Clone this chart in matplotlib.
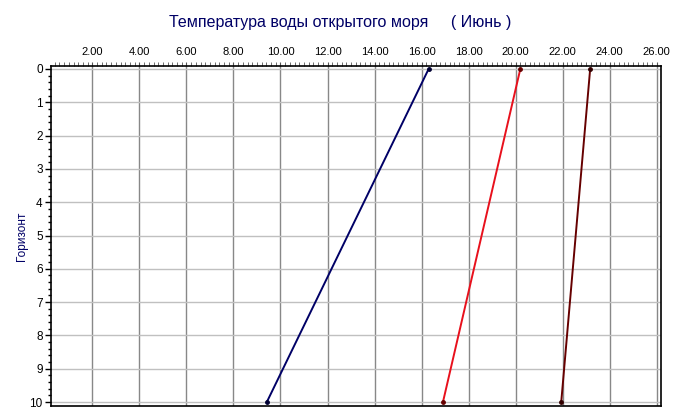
import matplotlib
matplotlib.use("Agg")
import matplotlib.pyplot as plt
from matplotlib.ticker import MultipleLocator, FormatStrFormatter

plt.rcParams['font.family'] = ['Liberation Sans', 'DejaVu Sans']

depth = [0, 10]
series_blue = [16.30, 9.42]
series_red = [20.20, 16.91]
series_darkred = [23.17, 21.94]
colors = ['#000066', '#e8101c', '#660000']
marker_colors = ['#000033', '#660000', '#330000']

title = "Температура воды открытого моря     ( Июнь )"
ylabel = "Горизонт"

fig = plt.figure(figsize=(6.75, 4.19), dpi=100)
ax = fig.add_axes([51/675, 1-406/419, (660.7-51)/675, (406-66)/419])

for vals, c, mc in zip([series_blue, series_red, series_darkred], colors, marker_colors):
    ax.plot(vals, depth, color=c, lw=1.4, zorder=3)
    ax.plot(vals, depth, ls='none', marker='o', ms=2.5, color=mc, zorder=4)

ax.set_xlim(0.24, 26.17)
ax.set_ylim(10.12, -0.09)

ax.xaxis.tick_top()
ax.xaxis.set_major_locator(MultipleLocator(2))
ax.xaxis.set_minor_locator(MultipleLocator(0.2))
ax.xaxis.set_major_formatter(FormatStrFormatter('%.2f'))
ax.yaxis.set_major_locator(MultipleLocator(1))
ax.yaxis.set_minor_locator(MultipleLocator(0.2))

ax.tick_params(axis='x', which='major', length=3, width=0.8, pad=3.5, labelsize=8, direction='out', color='#555555')
ax.tick_params(axis='x', which='minor', length=3, width=0.6, direction='out', color='#555555')
ax.tick_params(axis='y', which='major', length=4, width=1, pad=2, labelsize=8.5, direction='out')
ax.tick_params(axis='y', which='minor', length=2.5, width=1, direction='out')

for x in range(2, 27, 2):
    ax.axvline(x, color='#888888', lw=1, zorder=1)
for y in range(0, 11):
    ax.axhline(y, color='#c0c0c0', lw=1, zorder=1)

for s in ax.spines.values():
    s.set_color('black')
    s.set_linewidth(1.2)

fig.text(340/675, 1-22/419, title, ha='center', va='center', fontsize=11.5, color='#000066')
fig.text(22/675, 1-236/419, ylabel, ha='center', va='center', rotation=90, fontsize=8.5, color='#000066')

fig.savefig('out.png', dpi=100)
